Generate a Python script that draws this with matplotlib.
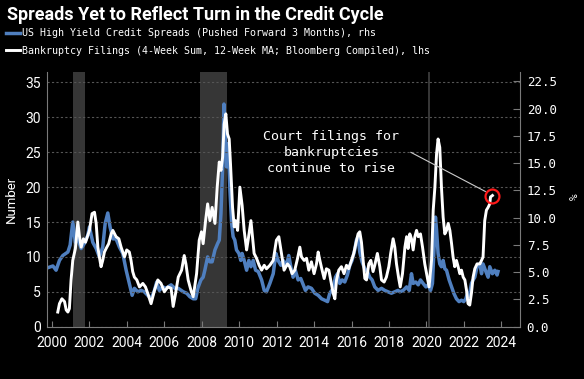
import matplotlib
matplotlib.use("Agg")
import matplotlib.pyplot as plt

# Bankruptcy filings (lhs, number)
filings_year = [
    2000.32, 2000.41, 2000.54, 2000.68, 2000.77, 2000.86, 2000.94, 2001.03, 2001.12, 2001.26,
    2001.39, 2001.48, 2001.57, 2001.69, 2001.80, 2001.92, 2002.01, 2002.15, 2002.28, 2002.37,
    2002.46, 2002.54, 2002.63, 2002.72, 2002.81, 2002.90, 2003.04, 2003.17, 2003.26, 2003.43,
    2003.58, 2003.70, 2003.88, 2004.00, 2004.14, 2004.23, 2004.32, 2004.41, 2004.54, 2004.68,
    2004.86, 2005.00, 2005.12, 2005.30, 2005.48, 2005.66, 2005.83, 2006.01, 2006.19, 2006.37,
    2006.48, 2006.61, 2006.75, 2006.93, 2007.07, 2007.16, 2007.28, 2007.43, 2007.55, 2007.73,
    2007.87, 2007.99, 2008.08, 2008.21, 2008.32, 2008.44, 2008.56, 2008.71, 2008.83, 2008.94,
    2009.03, 2009.12, 2009.20, 2009.29, 2009.38, 2009.47, 2009.54, 2009.65, 2009.74, 2009.81,
    2009.92, 2010.04, 2010.16, 2010.27, 2010.40, 2010.48, 2010.63, 2010.70, 2010.80, 2010.93,
    2011.07, 2011.20, 2011.34, 2011.46, 2011.64, 2011.82, 2011.99, 2012.12, 2012.26, 2012.40,
    2012.58, 2012.70, 2012.83, 2012.97, 2013.12, 2013.24, 2013.33, 2013.47, 2013.60, 2013.72,
    2013.86, 2014.00, 2014.13, 2014.22, 2014.31, 2014.43, 2014.54, 2014.66, 2014.79, 2014.89,
    2015.02, 2015.11, 2015.20, 2015.32, 2015.46, 2015.60, 2015.73, 2015.85, 2016.00, 2016.12,
    2016.23, 2016.35, 2016.44, 2016.53, 2016.62, 2016.71, 2016.80, 2016.92, 2017.03, 2017.15,
    2017.24, 2017.38, 2017.51, 2017.60, 2017.74, 2017.86, 2017.99, 2018.09, 2018.22, 2018.31,
    2018.40, 2018.52, 2018.60, 2018.72, 2018.85, 2018.94, 2019.02, 2019.11, 2019.20, 2019.29,
    2019.38, 2019.47, 2019.56, 2019.68, 2019.79, 2019.91, 2020.04, 2020.14, 2020.27, 2020.36,
    2020.45, 2020.54, 2020.62, 2020.71, 2020.80, 2020.89, 2020.98, 2021.07, 2021.16, 2021.25,
    2021.34, 2021.42, 2021.51, 2021.60, 2021.69, 2021.78, 2021.87, 2021.96, 2022.05, 2022.14,
    2022.22, 2022.31, 2022.40, 2022.49, 2022.58, 2022.70, 2022.85, 2022.94, 2023.02, 2023.11,
    2023.20, 2023.29, 2023.38, 2023.42, 2023.52,
]
filings = [
    2.1, 3.3, 4.0, 3.6, 2.4, 2.1, 2.6, 6.7, 9.5, 11.2,
    15.0, 12.9, 11.4, 12.6, 12.1, 13.1, 13.8, 16.2, 16.4, 14.8,
    11.4, 10.0, 8.6, 9.5, 10.7, 11.2, 11.9, 13.3, 13.8, 12.9,
    12.6, 11.4, 10.0, 11.0, 10.7, 9.5, 7.9, 7.1, 6.7, 5.7,
    6.2, 5.7, 4.8, 3.3, 5.2, 6.7, 6.2, 5.0, 5.7, 5.5,
    2.9, 4.8, 7.1, 8.1, 10.2, 9.0, 6.7, 5.2, 4.3, 7.6,
    12.4, 13.6, 11.9, 15.2, 17.6, 15.2, 17.1, 14.8, 20.0, 23.6,
    22.4, 24.3, 29.0, 30.5, 27.6, 26.9, 23.3, 17.1, 14.3, 15.2,
    13.8, 20.0, 17.4, 13.8, 11.0, 12.4, 15.2, 13.3, 10.5, 9.8,
    8.8, 8.1, 8.8, 8.3, 8.8, 9.5, 12.4, 12.9, 10.5, 8.1,
    9.0, 8.6, 7.6, 8.1, 9.8, 11.4, 10.0, 9.5, 9.8, 8.1,
    9.3, 7.6, 9.0, 10.7, 9.5, 8.1, 6.9, 8.3, 8.1, 6.7,
    4.8, 4.0, 6.7, 8.1, 8.6, 7.6, 8.8, 8.3, 9.5, 10.5,
    11.9, 13.3, 13.6, 12.1, 9.5, 6.9, 6.7, 9.0, 9.5, 7.9,
    8.8, 10.5, 8.6, 6.7, 6.4, 7.1, 8.6, 10.5, 12.6, 11.4,
    9.0, 6.9, 5.7, 7.6, 11.4, 12.9, 11.2, 13.3, 12.6, 11.0,
    12.9, 13.8, 12.9, 13.3, 11.4, 9.0, 7.1, 5.7, 9.5, 16.7,
    20.0, 24.8, 26.9, 25.7, 20.0, 15.7, 13.3, 13.8, 14.8, 13.8,
    11.9, 10.0, 8.6, 9.5, 8.6, 7.6, 8.1, 7.1, 6.7, 5.2,
    3.3, 3.1, 4.8, 7.1, 8.3, 9.0, 9.0, 9.5, 10.0, 15.2,
    16.7, 17.1, 17.6, 18.6, 18.8,
]

# US high yield credit spreads, pushed forward 3 months (rhs, %)
spread_year = [
    1999.84, 2000.06, 2000.23, 2000.41, 2000.59, 2000.86, 2000.98, 2001.12, 2001.26, 2001.39,
    2001.57, 2001.74, 2001.92, 2002.01, 2002.19, 2002.37, 2002.54, 2002.72, 2002.85, 2002.99,
    2003.11, 2003.26, 2003.43, 2003.61, 2003.79, 2003.97, 2004.14, 2004.29, 2004.41, 2004.59,
    2004.77, 2004.94, 2005.12, 2005.30, 2005.48, 2005.60, 2005.74, 2005.92, 2006.10, 2006.37,
    2006.57, 2006.75, 2007.02, 2007.20, 2007.37, 2007.55, 2007.68, 2007.82, 2007.96, 2008.08,
    2008.17, 2008.32, 2008.44, 2008.56, 2008.71, 2008.85, 2008.94, 2009.03, 2009.12, 2009.19,
    2009.24, 2009.33, 2009.42, 2009.51, 2009.60, 2009.68, 2009.77, 2009.86, 2009.99, 2010.09,
    2010.16, 2010.27, 2010.40, 2010.52, 2010.63, 2010.75, 2010.88, 2011.02, 2011.20, 2011.34,
    2011.46, 2011.64, 2011.82, 2011.96, 2012.08, 2012.23, 2012.35, 2012.53, 2012.65, 2012.76,
    2012.88, 2013.00, 2013.15, 2013.29, 2013.42, 2013.54, 2013.68, 2013.86, 2014.04, 2014.22,
    2014.40, 2014.57, 2014.72, 2014.84, 2015.02, 2015.14, 2015.25, 2015.37, 2015.50, 2015.64,
    2015.78, 2015.91, 2016.03, 2016.17, 2016.26, 2016.35, 2016.44, 2016.56, 2016.71, 2016.85,
    2016.97, 2017.10, 2017.24, 2017.42, 2017.60, 2017.77, 2017.95, 2018.13, 2018.31, 2018.48,
    2018.58, 2018.76, 2018.94, 2019.08, 2019.20, 2019.29, 2019.43, 2019.56, 2019.68, 2019.82,
    2019.97, 2020.09, 2020.22, 2020.32, 2020.41, 2020.48, 2020.54, 2020.62, 2020.71, 2020.80,
    2020.89, 2020.98, 2021.07, 2021.21, 2021.34, 2021.46, 2021.60, 2021.74, 2021.87, 2021.99,
    2022.10, 2022.19, 2022.28, 2022.40, 2022.49, 2022.58, 2022.70, 2022.85, 2022.94, 2023.02,
    2023.17, 2023.29, 2023.38, 2023.52, 2023.65, 2023.77, 2023.82,
]
spreads = [
    5.44, 5.57, 5.18, 6.08, 6.53, 6.85, 7.49, 9.60, 7.74, 8.06,
    7.17, 7.62, 8.38, 9.15, 7.74, 7.17, 6.40, 7.30, 9.47, 10.43,
    9.15, 8.06, 8.06, 7.30, 6.72, 5.18, 3.97, 2.88, 3.52, 3.20,
    3.33, 3.20, 2.88, 2.56, 3.33, 4.10, 3.33, 3.65, 3.52, 3.84,
    3.52, 3.52, 3.20, 3.07, 2.75, 2.56, 2.56, 3.65, 4.29, 4.54,
    5.18, 6.40, 5.95, 5.95, 7.04, 7.62, 7.94, 10.37, 14.66, 20.42,
    18.56, 14.66, 16.77, 12.48, 9.47, 8.26, 7.94, 7.04, 6.72, 6.08,
    6.72, 6.08, 5.18, 6.08, 5.50, 6.08, 5.18, 5.06, 4.29, 3.33,
    3.20, 3.97, 4.86, 6.72, 6.08, 5.63, 6.08, 5.63, 6.53, 5.50,
    4.54, 5.18, 4.29, 4.42, 3.84, 3.33, 3.65, 3.52, 3.07, 2.88,
    2.56, 2.43, 2.30, 3.07, 3.52, 4.54, 4.86, 3.97, 4.29, 4.10,
    4.74, 5.63, 6.08, 7.04, 7.94, 8.26, 6.85, 5.95, 5.31, 5.06,
    4.54, 4.29, 3.65, 3.33, 3.52, 3.33, 3.20, 3.07, 3.20, 3.33,
    3.20, 3.33, 3.65, 3.33, 4.86, 3.97, 4.10, 3.84, 4.29, 3.97,
    3.65, 3.84, 3.33, 3.97, 7.30, 10.05, 8.83, 6.72, 5.76, 5.50,
    6.08, 5.31, 5.18, 4.29, 3.65, 3.07, 2.56, 2.30, 2.43, 2.30,
    2.56, 3.07, 2.75, 3.97, 4.29, 4.54, 5.50, 5.76, 4.86, 5.76,
    5.06, 4.54, 5.50, 4.86, 5.18, 4.74, 5.06,
]

# recessions (start, end)
recessions = [(2001.15, 2001.75), (2007.9, 2009.35), (2020.09, 2020.19)]

x_ticks = list(range(2000, 2025, 2))
left_ticks = [0, 5, 10, 15, 20, 25, 30, 35]
right_ticks = [0, 2.5, 5, 7.5, 10, 12.5, 15, 17.5, 20, 22.5]

BLUE = "#4f7fbf"
GREY = "#7a7a7a"
SANS = ["Roboto", "DejaVu Sans"]
MONO = ["DejaVu Sans Mono"]

fig = plt.figure(figsize=(5.84, 3.79), dpi=100, facecolor="black")
ax = fig.add_axes([0.080, 0.138, 0.810, 0.672])
ax2 = ax.twinx()
ax2.set_facecolor("black")
ax.set_zorder(ax2.get_zorder() + 1)
ax.patch.set_visible(False)

# recession shading behind everything
for start, end in recessions:
    ax2.axvspan(start, end, color="#363636", lw=0, zorder=0)

line_spread, = ax2.plot(spread_year, spreads, color=BLUE, lw=2.5, zorder=2)
line_filings, = ax.plot(filings_year, filings, color="white", lw=2.1, zorder=3)

# highlight latest reading
ax.plot(filings_year[-1], filings[-1], "o", ms=10, mfc="none", mec="#ff1a1a", mew=1.6, zorder=4)

ax.set_xlim(1999.73, 2024.98)
ax.set_ylim(0, 36.5)
ax2.set_ylim(0, 23.36)

ax.set_yticks(left_ticks)
ax.set_xticks(x_ticks)
ax2.set_yticks(right_ticks)
ax2.set_yticklabels([f"{v:.1f}" for v in right_ticks])

ax.yaxis.grid(True, color="#555555", lw=0.8, linestyle=(0, (2, 2)))
ax.set_axisbelow(True)

ax.tick_params(axis="y", length=0, pad=4, labelcolor="white", labelsize=10)
ax.tick_params(axis="x", direction="in", length=4, color=GREY, pad=7,
               labelcolor="white", labelsize=10)
ax2.tick_params(axis="y", direction="in", length=5, color=GREY, pad=5,
                labelcolor="white", labelsize=9)
for lab in ax.get_xticklabels() + ax.get_yticklabels():
    lab.set_family(SANS)
for lab in ax2.get_yticklabels():
    lab.set_family(MONO)

for side in ["top", "right"]:
    ax.spines[side].set_visible(False)
for side in ["top", "left", "bottom"]:
    ax2.spines[side].set_visible(False)
ax.spines["left"].set_color(GREY)
ax.spines["bottom"].set_color(GREY)
ax2.spines["right"].set_color(GREY)

ax.set_ylabel("Number", color="white", fontsize=9.5, family=SANS)
ax.yaxis.set_label_coords(-0.060, 0.5)
ax2.set_ylabel("%", color="white", fontsize=8, family=MONO)
ax2.yaxis.set_label_coords(1.106, 0.51)

# annotation
ax.text(2014.92, 24.9, "Court filings for\nbankruptcies\ncontinue to rise",
        color="white", ha="center", va="center", fontsize=9.5, family=MONO,
        linespacing=1.3, zorder=5)
ax.annotate("", xy=(2023.15, 19.37), xytext=(2019.16, 25.0),
            arrowprops=dict(arrowstyle="-", color="#cccccc", lw=0.8,
                            shrinkA=0, shrinkB=0), zorder=5)

fig.text(0.012, 0.960, "Spreads Yet to Reflect Turn in the Credit Cycle",
         color="white", fontsize=13, fontweight="bold",
         family=["Liberation Sans Narrow", "Roboto", "DejaVu Sans"], va="center")

leg = fig.legend([line_spread, line_filings],
                 ["US High Yield Credit Spreads (Pushed Forward 3 Months), rhs",
                  "Bankruptcy Filings (4-Week Sum, 12-Week MA; Bloomberg Compiled), lhs"],
                 loc="upper left", bbox_to_anchor=(0.010, 0.925), frameon=False,
                 handlelength=1.4, handletextpad=0.25, labelspacing=0.75,
                 borderpad=0, borderaxespad=0,
                 prop={"family": MONO, "size": 7.2})
for t in leg.get_texts():
    t.set_color("white")

fig.savefig("out.png", dpi=100, facecolor="black")
